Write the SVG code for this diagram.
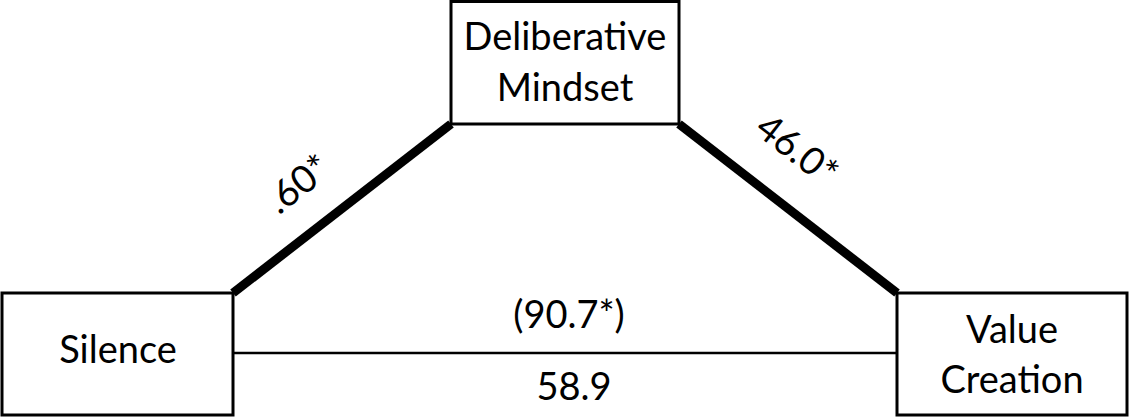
<svg xmlns="http://www.w3.org/2000/svg" width="1129" height="417" viewBox="0 0 1129 417">
  <style>
    .box { fill: #ffffff; stroke: #000000; stroke-width: 3; }
    .label { font-family: Lato, "Open Sans", "Liberation Sans", sans-serif; font-size: 38px; fill: #000000; text-anchor: middle; }
    .path-a { stroke: #000000; stroke-width: 9; stroke-linecap: butt; fill: none; }
    .path-c { stroke: #000000; stroke-width: 2.5; fill: none; }
  </style>
  <rect width="1129" height="417" fill="#ffffff"/>

  <!-- connectors between the three constructs -->
  <g id="connectors">
    <line class="path-a" x1="233" y1="293" x2="451" y2="124"/>
    <line class="path-a" x1="679" y1="124" x2="897" y2="293"/>
    <line class="path-c" x1="233" y1="353" x2="897" y2="353"/>
    <text class="label" transform="translate(298,184) rotate(-37.8)" y="13">.60*</text>
    <text class="label" transform="translate(797,150) rotate(37.8)" y="13">46.0*</text>
    <text class="label" x="569" y="328">(90.7*)</text>
    <text class="label" x="574" y="400">58.9</text>
  </g>

  <g id="mediator">
    <rect class="box" x="451" y="1.5" width="228" height="122.5"/>
    <text class="label" x="565" y="50">Deliberative</text>
    <text class="label" x="565" y="101">Mindset</text>
  </g>

  <g id="predictor">
    <rect class="box" x="2" y="293" width="231" height="122"/>
    <text class="label" x="118" y="363">Silence</text>
  </g>

  <g id="outcome">
    <rect class="box" x="897" y="293" width="230" height="122"/>
    <text class="label" x="1012" y="343">Value</text>
    <text class="label" x="1012" y="393">Creation</text>
  </g>
</svg>
